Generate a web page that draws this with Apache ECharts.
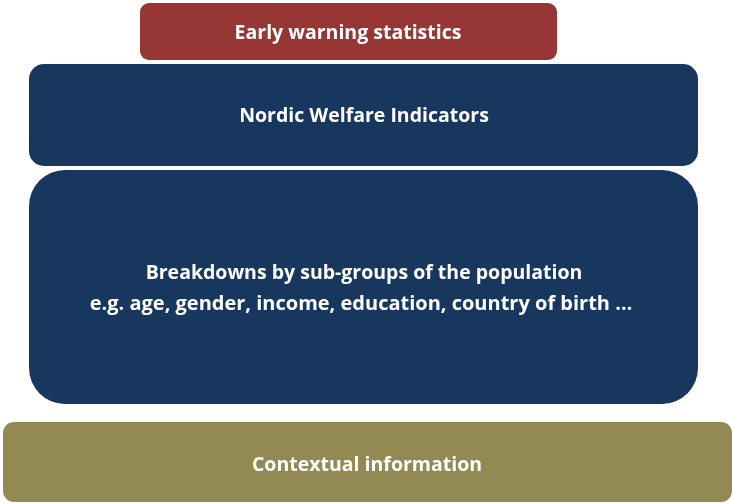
<!DOCTYPE html>
<html>
<head>
<meta charset="utf-8">
<script src="https://cdn.jsdelivr.net/npm/echarts@6/dist/echarts.min.js"></script>
<style>
  html, body { margin: 0; padding: 0; background: #fff; }
  #main { width: 732px; height: 503px; }
</style>
</head>
<body>
<div id="main"></div>
<script>
// layer labels, top to bottom
var layers = ['Early warning statistics', 'Nordic Welfare Indicators', 'Breakdowns', 'Contextual information'];
var breakdownLines = ['Breakdowns by sub-groups of the population', 'e.g. age, gender, income, education, country of birth \u2026'];
var colors = ['#963735', '#17375e', '#17375e', '#938953'];

var chart = echarts.init(document.getElementById('main'), null, {renderer: 'canvas'});

var font = 'Open Sans';
var txt = {fill: '#fff', fontFamily: font, fontWeight: 'bold', fontSize: 19.5, align: 'center', verticalAlign: 'middle'};

function box(x, y, w, h, r, color) {
    return {type: 'rect', shape: {x: x, y: y, width: w, height: h, r: r}, style: {fill: color}};
}
function label(x, y, s, size) {
    var st = Object.assign({text: s}, txt);
    if (size) st.fontSize = size;
    return {type: 'text', x: x, y: y, style: st};
}

chart.setOption({
    graphic: [
        box(140, 3, 417, 57, 9, colors[0]),
        label(348, 33, layers[0]),
        box(29, 64, 669, 102, 15, colors[1]),
        label(364, 116, layers[1]),
        box(29, 170, 669, 234, 36, colors[2]),
        label(364, 273, breakdownLines[0]),
        label(361, 304, breakdownLines[1], 20),
        box(3, 422, 729, 80, 11, colors[3]),
        label(367, 465, layers[3])
    ]
});
</script>
</body>
</html>
